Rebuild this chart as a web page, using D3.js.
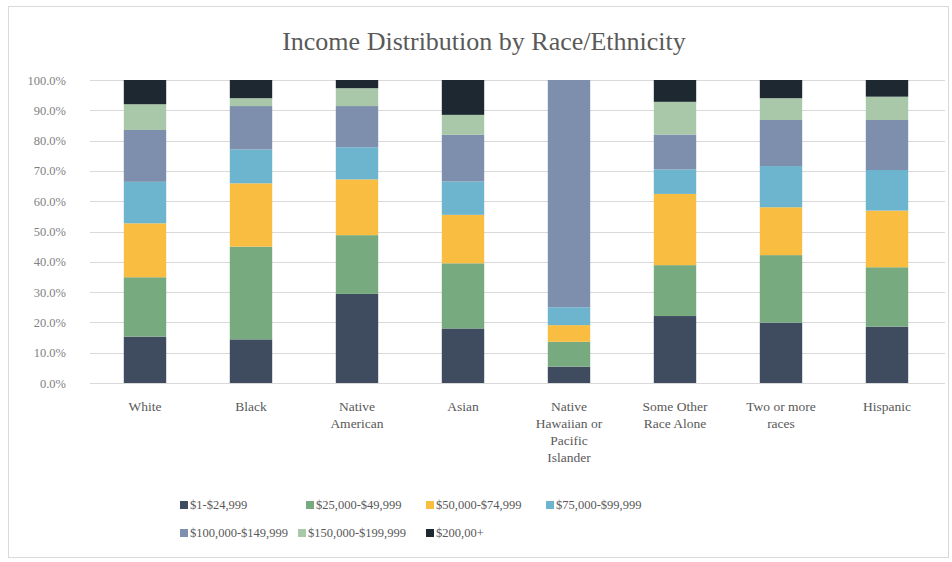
<!DOCTYPE html>
<html>
<head>
<meta charset="utf-8">
<script src="https://cdn.jsdelivr.net/npm/d3@7/dist/d3.min.js"></script>
<style>
  body { margin: 0; background: #fff; }
  svg { display: block; }
</style>
</head>
<body>
<div id="chart"></div>
<script>
const categories = ["White", "Black", "Native American", "Asian", "Native Hawaiian or Pacific Islander", "Some Other Race Alone", "Two or more races", "Hispanic"];
const categoryLines = [["White"], ["Black"], ["Native", "American"], ["Asian"], ["Native", "Hawaiian or", "Pacific", "Islander"], ["Some Other", "Race Alone"], ["Two or more", "races"], ["Hispanic"]];
const seriesNames = ["$1-$24,999", "$25,000-$49,999", "$50,000-$74,999", "$75,000-$99,999", "$100,000-$149,999", "$150,000-$199,999", "$200,00+"];
const s1 = [15.3, 14.4, 29.4, 18.0, 5.4, 22.1, 19.9, 18.6];
const s2 = [19.6, 30.6, 19.4, 21.5, 8.2, 16.8, 22.3, 19.6];
const s3 = [17.8, 20.9, 18.4, 16.0, 5.5, 23.5, 15.8, 18.7];
const s4 = [13.7, 11.2, 10.6, 11.0, 5.9, 8.1, 13.6, 13.4];
const s5 = [17.1, 14.3, 13.6, 15.4, 75.0, 11.5, 15.2, 16.5];
const s6 = [8.5, 2.6, 5.9, 6.6, 0.0, 10.8, 7.2, 7.7];
const s7 = [8.0, 6.0, 2.7, 11.5, 0.0, 7.2, 6.0, 5.5];
const yTicks = [0, 10, 20, 30, 40, 50, 60, 70, 80, 90, 100];
const colors = ["#3f4c60", "#77aa7e", "#f9bd42", "#6db4cf", "#7d8fac", "#a9c8a9", "#1e2830"];

const FONT = "'Liberation Serif', 'DejaVu Serif', 'Times New Roman', serif";
const W = 952, H = 562;
const svg = d3.select("#chart").append("svg").attr("width", W).attr("height", H)
  .style("font-family", FONT);

svg.append("rect").attr("x", 8.5).attr("y", 6.5).attr("width", W - 12).attr("height", H - 11)
  .attr("fill", "#fff").attr("stroke", "#d9d9d9");

const margin = {left: 92, right: 940, top: 80, bottom: 383};
const x = d3.scaleBand().domain(categories).range([margin.left, margin.right]).paddingInner(0.6).paddingOuter(0.3);
const y = d3.scaleLinear().domain([0, 100]).range([margin.bottom, margin.top]);

const allSeries = [s1, s2, s3, s4, s5, s6, s7];
const rows = categories.map((c, i) => {
  const o = {cat: c};
  seriesNames.forEach((n, k) => o[n] = allSeries[k][i]);
  return o;
});
const stacked = d3.stack().keys(seriesNames)(rows);

// gridlines
svg.append("g").selectAll("line").data(yTicks).join("line")
  .attr("x1", 90).attr("x2", 945)
  .attr("y1", d => Math.round(y(d)) + 0.5).attr("y2", d => Math.round(y(d)) + 0.5)
  .attr("stroke", "#d9d9d9").attr("stroke-width", 1);

// y labels
const yAxis = d3.axisLeft(y).tickValues(yTicks).tickFormat(d => d3.format(".1f")(d) + "%").tickSize(0).tickPadding(0);
const ya = svg.append("g").attr("transform", "translate(66,0)").call(yAxis);
ya.select(".domain").remove();
ya.attr("font-family", null);
ya.selectAll("text").attr("fill", "#7f7f7f").style("font-size", "12.5px").style("font-family", FONT);

// bars
const g = svg.append("g");
stacked.forEach((ser, k) => {
  g.append("g").attr("fill", colors[k]).selectAll("rect").data(ser).join("rect")
    .attr("x", d => x(d.data.cat))
    .attr("width", x.bandwidth())
    .attr("y", d => y(d[1]))
    .attr("height", d => Math.max(0, y(d[0]) - y(d[1])));
});

// x labels
const xl = svg.append("g");
categories.forEach((c, i) => {
  const t = xl.append("text").attr("text-anchor", "middle").attr("fill", "#595959")
    .style("font-size", "13.5px").style("font-family", FONT)
    .attr("x", x(c) + x.bandwidth() / 2).attr("y", 411);
  categoryLines[i].forEach((ln, j) => {
    t.append("tspan").attr("x", x(c) + x.bandwidth() / 2).attr("dy", j === 0 ? 0 : 17).text(ln);
  });
});

// title
svg.append("text").attr("x", 484).attr("y", 50).attr("text-anchor", "middle")
  .attr("fill", "#595959").style("font-size", "26px").style("font-family", FONT)
  .text("Income Distribution by Race/Ethnicity");

// legend
const legPos = [[180, 505], [306, 505], [426, 505], [546, 505], [180, 533], [298, 533], [426, 533]];
const lg = svg.append("g");
seriesNames.forEach((n, k) => {
  const [lx, ly] = legPos[k];
  lg.append("rect").attr("x", lx).attr("y", ly - 4).attr("width", 8).attr("height", 8).attr("fill", colors[k]);
  lg.append("text").attr("x", lx + 10).attr("y", ly + 4).attr("fill", "#595959")
    .style("font-size", "12.5px").style("font-family", FONT).text(n);
});
</script>
</body>
</html>
